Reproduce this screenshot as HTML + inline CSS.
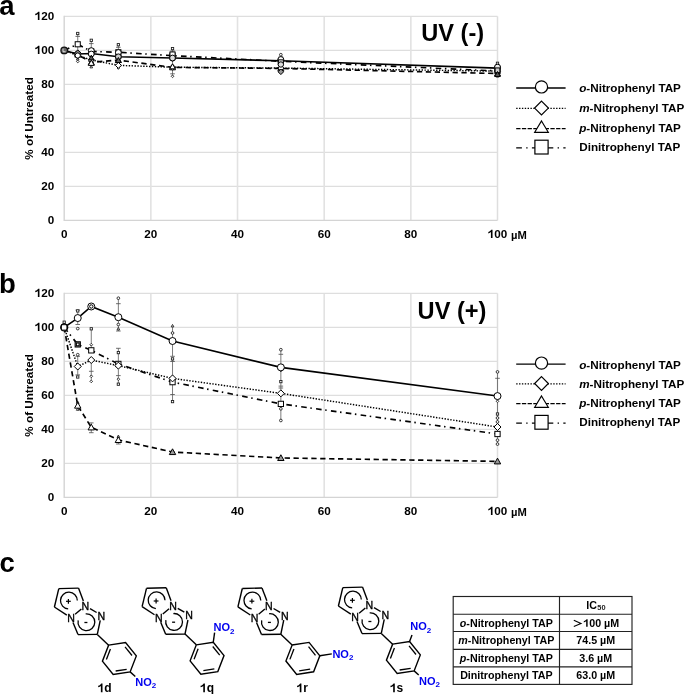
<!DOCTYPE html>
<html><head><meta charset="utf-8"><style>html,body{margin:0;padding:0;background:#fff}svg{display:block;will-change:transform}</style></head>
<body>
<svg width="685" height="694" viewBox="0 0 685 694">
<rect width="685" height="694" fill="#fff"/>
<style>text{font-family:"Liberation Sans", sans-serif;font-weight:bold;fill:#000} .t{font-size:11.7px} .um{font-size:11.2px} .uv{font-size:23.6px} .lg{font-size:11.7px} .pl{font-size:27.5px} .tb{font-size:10.7px} .nl{font-weight:normal;font-size:10.6px;stroke:#000;stroke-width:0.35px} .no2{font-size:11px;fill:#0000ee} .sub{font-size:8px} .cl{font-size:12px} .tsub{font-size:7.4px;fill:#222}</style>
<text x="-0.8" y="15.3" class="pl">a</text>
<text x="-1.0" y="293.0" class="pl">b</text>
<text x="-0.6" y="572.4" class="pl">c</text>
<line x1="64.2" y1="186.4" x2="497.5" y2="186.4" stroke="#dedede" stroke-width="1.3"/>
<line x1="64.2" y1="152.4" x2="497.5" y2="152.4" stroke="#dedede" stroke-width="1.3"/>
<line x1="64.2" y1="118.4" x2="497.5" y2="118.4" stroke="#dedede" stroke-width="1.3"/>
<line x1="64.2" y1="84.4" x2="497.5" y2="84.4" stroke="#dedede" stroke-width="1.3"/>
<line x1="64.2" y1="50.4" x2="497.5" y2="50.4" stroke="#dedede" stroke-width="1.3"/>
<line x1="150.86" y1="16.4" x2="150.86" y2="220.4" stroke="#e2e2e2" stroke-width="1.6"/>
<line x1="237.52" y1="16.4" x2="237.52" y2="220.4" stroke="#e2e2e2" stroke-width="1.6"/>
<line x1="324.18" y1="16.4" x2="324.18" y2="220.4" stroke="#e2e2e2" stroke-width="1.6"/>
<line x1="410.84" y1="16.4" x2="410.84" y2="220.4" stroke="#e2e2e2" stroke-width="1.6"/>
<line x1="64.2" y1="16.4" x2="497.5" y2="16.4" stroke="#dedede" stroke-width="1.3"/>
<line x1="497.5" y1="16.4" x2="497.5" y2="220.4" stroke="#dedede" stroke-width="1.5"/>
<line x1="64.2" y1="15.8" x2="64.2" y2="221.1" stroke="#d4d4d4" stroke-width="1.4"/>
<line x1="64.2" y1="220.4" x2="497.5" y2="220.4" stroke="#d4d4d4" stroke-width="1.4"/>
<text x="47.69" y="224" class="t" style="white-space:pre">0</text>
<text x="41.19" y="190" class="t" style="white-space:pre">20</text>
<text x="41.19" y="156" class="t" style="white-space:pre">40</text>
<text x="41.19" y="122" class="t" style="white-space:pre">60</text>
<text x="41.19" y="88" class="t" style="white-space:pre">80</text>
<path transform="translate(34.68 54) scale(0.00571 -0.00571)" d="M838,0 L557,0 L557,1059 C474,980 330,900 100,826 L100,1081 C230,1120 360,1190 450,1270 C540,1350 590,1410 620,1466 L838,1466 Z" fill="#000"/>
<text x="41.19" y="54" class="t" style="white-space:pre">00</text>
<path transform="translate(34.68 20) scale(0.00571 -0.00571)" d="M838,0 L557,0 L557,1059 C474,980 330,900 100,826 L100,1081 C230,1120 360,1190 450,1270 C540,1350 590,1410 620,1466 L838,1466 Z" fill="#000"/>
<text x="41.19" y="20" class="t" style="white-space:pre">20</text>
<text x="60.95" y="238.1" class="t" style="white-space:pre">0</text>
<text x="144.35" y="238.1" class="t" style="white-space:pre">20</text>
<text x="231.01" y="238.1" class="t" style="white-space:pre">40</text>
<text x="317.67" y="238.1" class="t" style="white-space:pre">60</text>
<text x="404.33" y="238.1" class="t" style="white-space:pre">80</text>
<path transform="translate(487.74 238.1) scale(0.00571 -0.00571)" d="M838,0 L557,0 L557,1059 C474,980 330,900 100,826 L100,1081 C230,1120 360,1190 450,1270 C540,1350 590,1410 620,1466 L838,1466 Z" fill="#000"/>
<text x="494.25" y="238.1" class="t" style="white-space:pre">00</text>
<text x="511.1" y="238.7" class="um">µM</text>
<text transform="translate(32.9 118.4) rotate(-90)" text-anchor="middle" class="t">% of Untreated</text>
<text x="421.2" y="41.2" class="uv">UV (-)</text>
<line x1="77.74" y1="33.5" x2="77.74" y2="62.5" stroke="#666" stroke-width="0.85"/>
<line x1="75.44" y1="36.4" x2="80.04" y2="36.4" stroke="#555" stroke-width="0.85"/>
<rect x="76.59" y="32.35" width="2.29" height="2.29" fill="#fff" stroke="#222" stroke-width="0.9"/>
<path d="M77.74,57.55 L79.09,59.98 L76.39,59.98Z" fill="#fff" stroke="#222" stroke-width="0.9"/>
<path d="M77.74,60.15 L79.09,61.5 L77.74,62.85 L76.39,61.5Z" fill="#fff" stroke="#222" stroke-width="0.9"/>
<line x1="91.28" y1="40.3" x2="91.28" y2="66.8" stroke="#666" stroke-width="0.85"/>
<line x1="88.98" y1="43.6" x2="93.58" y2="43.6" stroke="#555" stroke-width="0.85"/>
<rect x="90.13" y="39.15" width="2.29" height="2.29" fill="#fff" stroke="#222" stroke-width="0.9"/>
<path d="M91.28,65.45 L92.63,67.88 L89.93,67.88Z" fill="#fff" stroke="#222" stroke-width="0.9"/>
<line x1="118.36" y1="44.7" x2="118.36" y2="68.5" stroke="#666" stroke-width="0.85"/>
<line x1="116.06" y1="47.3" x2="120.66" y2="47.3" stroke="#555" stroke-width="0.85"/>
<line x1="116.06" y1="66.5" x2="120.66" y2="66.5" stroke="#555" stroke-width="0.85"/>
<rect x="117.22" y="43.55" width="2.29" height="2.29" fill="#fff" stroke="#222" stroke-width="0.9"/>
<path d="M118.36,66.65 L119.71,68 L118.36,69.35 L117.01,68Z" fill="#fff" stroke="#222" stroke-width="0.9"/>
<line x1="172.53" y1="48.6" x2="172.53" y2="76.3" stroke="#666" stroke-width="0.85"/>
<line x1="170.22" y1="51" x2="174.83" y2="51" stroke="#555" stroke-width="0.85"/>
<line x1="170.22" y1="73.8" x2="174.83" y2="73.8" stroke="#555" stroke-width="0.85"/>
<rect x="171.38" y="47.45" width="2.29" height="2.29" fill="#fff" stroke="#222" stroke-width="0.9"/>
<path d="M172.53,74.95 L173.88,76.3 L172.53,77.65 L171.18,76.3Z" fill="#fff" stroke="#222" stroke-width="0.9"/>
<line x1="280.85" y1="54.7" x2="280.85" y2="72.2" stroke="#666" stroke-width="0.85"/>
<line x1="278.55" y1="57" x2="283.15" y2="57" stroke="#555" stroke-width="0.85"/>
<line x1="278.55" y1="70" x2="283.15" y2="70" stroke="#555" stroke-width="0.85"/>
<circle cx="280.85" cy="54.7" r="1.35" fill="#fff" stroke="#222" stroke-width="0.9"/>
<path d="M280.85,70.85 L282.2,72.2 L280.85,73.55 L279.5,72.2Z" fill="#fff" stroke="#222" stroke-width="0.9"/>
<line x1="497.5" y1="63" x2="497.5" y2="77" stroke="#666" stroke-width="0.85"/>
<line x1="495.2" y1="65" x2="499.8" y2="65" stroke="#555" stroke-width="0.85"/>
<line x1="495.2" y1="75" x2="499.8" y2="75" stroke="#555" stroke-width="0.85"/>
<rect x="496.35" y="62.15" width="2.29" height="2.29" fill="#fff" stroke="#222" stroke-width="0.9"/>
<path d="M497.5,74.65 L498.85,77.08 L496.15,77.08Z" fill="#fff" stroke="#222" stroke-width="0.9"/>
<polyline points="64.2,50.4 77.74,44.28 91.28,51.42 118.36,52.27 172.53,55.67 280.85,61.28 497.5,70.97" fill="none" stroke="#000" stroke-width="1.65" stroke-dasharray="5.6 3.6 1.5 4.3"/>
<polyline points="64.2,50.4 77.74,54.65 91.28,62.3 118.36,60.09 172.53,67.4 280.85,68.42 497.5,73.52" fill="none" stroke="#000" stroke-width="1.65" stroke-dasharray="5.3 3.6"/>
<polyline points="64.2,50.4 77.74,55.5 91.28,59.92 118.36,65.36 172.53,67.23 280.85,68.08 497.5,71.14" fill="none" stroke="#000" stroke-width="1.45" stroke-dasharray="1.4 1.5"/>
<polyline points="64.2,50.4 77.74,53.97 91.28,53.46 118.36,56.69 172.53,58.05 280.85,60.77 497.5,68.08" fill="none" stroke="#000" stroke-width="1.6"/>
<rect x="75.19" y="41.73" width="5.1" height="5.1" fill="#fff" stroke="#000" stroke-width="1.0"/>
<rect x="88.73" y="48.87" width="5.1" height="5.1" fill="#fff" stroke="#000" stroke-width="1.0"/>
<rect x="115.81" y="49.72" width="5.1" height="5.1" fill="#fff" stroke="#000" stroke-width="1.0"/>
<rect x="169.97" y="53.12" width="5.1" height="5.1" fill="#fff" stroke="#000" stroke-width="1.0"/>
<rect x="278.3" y="58.73" width="5.1" height="5.1" fill="#fff" stroke="#000" stroke-width="1.0"/>
<rect x="494.95" y="68.42" width="5.1" height="5.1" fill="#fff" stroke="#000" stroke-width="1.0"/>
<path d="M77.74,51.65 L80.74,57.05 L74.74,57.05Z" fill="#fff" stroke="#000" stroke-width="1.0"/>
<path d="M91.28,59.3 L94.28,64.7 L88.28,64.7Z" fill="#fff" stroke="#000" stroke-width="1.0"/>
<path d="M118.36,57.09 L121.36,62.49 L115.36,62.49Z" fill="#fff" stroke="#000" stroke-width="1.0"/>
<path d="M172.53,64.4 L175.53,69.8 L169.53,69.8Z" fill="#fff" stroke="#000" stroke-width="1.0"/>
<path d="M280.85,65.42 L283.85,70.82 L277.85,70.82Z" fill="#fff" stroke="#000" stroke-width="1.0"/>
<path d="M497.5,70.52 L500.5,75.92 L494.5,75.92Z" fill="#fff" stroke="#000" stroke-width="1.0"/>
<path d="M77.74,52.5 L80.74,55.5 L77.74,58.5 L74.74,55.5Z" fill="#fff" stroke="#000" stroke-width="1.0"/>
<path d="M91.28,56.92 L94.28,59.92 L91.28,62.92 L88.28,59.92Z" fill="#fff" stroke="#000" stroke-width="1.0"/>
<path d="M118.36,62.36 L121.36,65.36 L118.36,68.36 L115.36,65.36Z" fill="#fff" stroke="#000" stroke-width="1.0"/>
<path d="M172.53,64.23 L175.53,67.23 L172.53,70.23 L169.53,67.23Z" fill="#fff" stroke="#000" stroke-width="1.0"/>
<path d="M280.85,65.08 L283.85,68.08 L280.85,71.08 L277.85,68.08Z" fill="#fff" stroke="#000" stroke-width="1.0"/>
<path d="M497.5,68.14 L500.5,71.14 L497.5,74.14 L494.5,71.14Z" fill="#fff" stroke="#000" stroke-width="1.0"/>
<circle cx="77.74" cy="53.97" r="3" fill="#fff" stroke="#000" stroke-width="1.0"/>
<circle cx="91.28" cy="53.46" r="3" fill="#fff" stroke="#000" stroke-width="1.0"/>
<circle cx="118.36" cy="56.69" r="3" fill="#fff" stroke="#000" stroke-width="1.0"/>
<circle cx="172.53" cy="58.05" r="3" fill="#fff" stroke="#000" stroke-width="1.0"/>
<circle cx="280.85" cy="60.77" r="3" fill="#fff" stroke="#000" stroke-width="1.0"/>
<circle cx="497.5" cy="68.08" r="3" fill="#fff" stroke="#000" stroke-width="1.0"/>
<path d="M77.74,49.9 L81.14,53.3 L77.74,56.7 L74.34,53.3Z" fill="#888" stroke="#000" stroke-width="1.0"/>
<circle cx="77.74" cy="55.5" r="2.6" fill="#fff" stroke="#000" stroke-width="1.0"/>
<circle cx="91.28" cy="50.6" r="2.9" fill="#fff" stroke="#000" stroke-width="1.0"/>
<circle cx="91.28" cy="54" r="2.9" fill="#fff" stroke="#000" stroke-width="1.0"/>
<path d="M91.28,55.2 L93.88,59.88 L88.68,59.88Z" fill="#555" stroke="#000" stroke-width="1.0"/>
<path d="M91.28,60 L94.28,65.4 L88.28,65.4Z" fill="#fff" stroke="#000" stroke-width="1.0"/>
<circle cx="118.36" cy="52.5" r="2.9" fill="#fff" stroke="#000" stroke-width="1.0"/>
<circle cx="118.36" cy="56.8" r="2.9" fill="#ccc" stroke="#000" stroke-width="1.0"/>
<path d="M118.36,57.5 L121.16,62.54 L115.56,62.54Z" fill="#666" stroke="#000" stroke-width="1.0"/>
<rect x="169.97" y="51.95" width="5.1" height="5.1" fill="#fff" stroke="#000" stroke-width="1.0"/>
<circle cx="172.53" cy="58" r="2.9" fill="#ddd" stroke="#000" stroke-width="1.0"/>
<path d="M172.53,63.8 L175.33,68.84 L169.72,68.84Z" fill="#fff" stroke="#000" stroke-width="1.0"/>
<circle cx="280.85" cy="59.5" r="2.9" fill="#fff" stroke="#000" stroke-width="1.0"/>
<rect x="278.39" y="59.83" width="4.93" height="4.93" fill="#eee" stroke="#000" stroke-width="1.0"/>
<circle cx="280.85" cy="64.5" r="2.7" fill="#ddd" stroke="#000" stroke-width="1.0"/>
<path d="M280.85,69 L283.65,71.8 L280.85,74.6 L278.05,71.8Z" fill="#999" stroke="#000" stroke-width="1.0"/>
<circle cx="497.5" cy="67.2" r="3" fill="#eee" stroke="#000" stroke-width="1.0"/>
<rect x="495.12" y="67.92" width="4.76" height="4.76" fill="#ccc" stroke="#000" stroke-width="1.0"/>
<path d="M497.5,71.5 L500.3,76.54 L494.7,76.54Z" fill="#555" stroke="#000" stroke-width="1.0"/>
<circle cx="64.2" cy="50.4" r="3.3" fill="#666" stroke="#111" stroke-width="1.2"/>
<path d="M63,48.6 V51.7 H65.6" fill="none" stroke="#eee" stroke-width="0.8"/>
<line x1="516.2" y1="88" x2="565.6" y2="88" stroke="#000" stroke-width="1.3"/>
<circle cx="541.5" cy="86.9" r="6.1" fill="#fff" stroke="#000" stroke-width="1.2"/>
<text x="579.2" y="92.3" class="lg"><tspan font-style="italic">o</tspan>-Nitrophenyl TAP</text>
<line x1="516.2" y1="108.4" x2="565.6" y2="108.4" stroke="#000" stroke-width="1.2" stroke-dasharray="1.4 1.45"/>
<path d="M541.5,101.2 L548.4,108.1 L541.5,115 L534.6,108.1Z" fill="#fff" stroke="#000" stroke-width="1.2"/>
<text x="579.2" y="112.1" class="lg"><tspan font-style="italic">m</tspan>-Nitrophenyl TAP</text>
<line x1="516.2" y1="128.7" x2="565.6" y2="128.7" stroke="#000" stroke-width="1.3" stroke-dasharray="4.3 1.4"/>
<path d="M541.5,121 L548.3,132.3 L534.7,132.3Z" fill="#fff" stroke="#000" stroke-width="1.2"/>
<text x="579.2" y="132.3" class="lg"><tspan font-style="italic">p</tspan>-Nitrophenyl TAP</text>
<line x1="516.2" y1="147.9" x2="565.6" y2="147.9" stroke="#000" stroke-width="1.3" stroke-dasharray="5.7 4.3 1.4 4.3"/>
<rect x="534.9" y="140.2" width="13.2" height="13.8" fill="#fff" stroke="#000" stroke-width="1.2"/>
<text x="579.2" y="150.7" class="lg">Dinitrophenyl TAP</text>
<line x1="64.2" y1="463.4" x2="497.5" y2="463.4" stroke="#dedede" stroke-width="1.3"/>
<line x1="64.2" y1="429.4" x2="497.5" y2="429.4" stroke="#dedede" stroke-width="1.3"/>
<line x1="64.2" y1="395.4" x2="497.5" y2="395.4" stroke="#dedede" stroke-width="1.3"/>
<line x1="64.2" y1="361.4" x2="497.5" y2="361.4" stroke="#dedede" stroke-width="1.3"/>
<line x1="64.2" y1="327.4" x2="497.5" y2="327.4" stroke="#dedede" stroke-width="1.3"/>
<line x1="150.86" y1="293.4" x2="150.86" y2="497.4" stroke="#e2e2e2" stroke-width="1.6"/>
<line x1="237.52" y1="293.4" x2="237.52" y2="497.4" stroke="#e2e2e2" stroke-width="1.6"/>
<line x1="324.18" y1="293.4" x2="324.18" y2="497.4" stroke="#e2e2e2" stroke-width="1.6"/>
<line x1="410.84" y1="293.4" x2="410.84" y2="497.4" stroke="#e2e2e2" stroke-width="1.6"/>
<line x1="64.2" y1="293.4" x2="497.5" y2="293.4" stroke="#dedede" stroke-width="1.3"/>
<line x1="497.5" y1="293.4" x2="497.5" y2="497.4" stroke="#dedede" stroke-width="1.5"/>
<line x1="64.2" y1="292.8" x2="64.2" y2="498.1" stroke="#d4d4d4" stroke-width="1.4"/>
<line x1="64.2" y1="497.4" x2="497.5" y2="497.4" stroke="#d4d4d4" stroke-width="1.4"/>
<text x="47.69" y="501" class="t" style="white-space:pre">0</text>
<text x="41.19" y="467" class="t" style="white-space:pre">20</text>
<text x="41.19" y="433" class="t" style="white-space:pre">40</text>
<text x="41.19" y="399" class="t" style="white-space:pre">60</text>
<text x="41.19" y="365" class="t" style="white-space:pre">80</text>
<path transform="translate(34.68 331) scale(0.00571 -0.00571)" d="M838,0 L557,0 L557,1059 C474,980 330,900 100,826 L100,1081 C230,1120 360,1190 450,1270 C540,1350 590,1410 620,1466 L838,1466 Z" fill="#000"/>
<text x="41.19" y="331" class="t" style="white-space:pre">00</text>
<path transform="translate(34.68 297) scale(0.00571 -0.00571)" d="M838,0 L557,0 L557,1059 C474,980 330,900 100,826 L100,1081 C230,1120 360,1190 450,1270 C540,1350 590,1410 620,1466 L838,1466 Z" fill="#000"/>
<text x="41.19" y="297" class="t" style="white-space:pre">20</text>
<text x="60.95" y="515.1" class="t" style="white-space:pre">0</text>
<text x="144.35" y="515.1" class="t" style="white-space:pre">20</text>
<text x="231.01" y="515.1" class="t" style="white-space:pre">40</text>
<text x="317.67" y="515.1" class="t" style="white-space:pre">60</text>
<text x="404.33" y="515.1" class="t" style="white-space:pre">80</text>
<path transform="translate(487.74 515.1) scale(0.00571 -0.00571)" d="M838,0 L557,0 L557,1059 C474,980 330,900 100,826 L100,1081 C230,1120 360,1190 450,1270 C540,1350 590,1410 620,1466 L838,1466 Z" fill="#000"/>
<text x="494.25" y="515.1" class="t" style="white-space:pre">00</text>
<text x="511.1" y="515.7" class="um">µM</text>
<text transform="translate(32.9 395.4) rotate(-90)" text-anchor="middle" class="t">% of Untreated</text>
<text x="417.6" y="319.4" class="uv">UV (+)</text>
<line x1="64.2" y1="322.2" x2="64.2" y2="326" stroke="#666" stroke-width="0.85"/>
<rect x="63.05" y="321.05" width="2.29" height="2.29" fill="#fff" stroke="#222" stroke-width="0.9"/>
<line x1="77.74" y1="310.1" x2="77.74" y2="324.5" stroke="#666" stroke-width="0.85"/>
<line x1="75.44" y1="310.1" x2="80.04" y2="310.1" stroke="#555" stroke-width="0.85"/>
<line x1="75.44" y1="324.5" x2="80.04" y2="324.5" stroke="#555" stroke-width="0.85"/>
<rect x="76.59" y="309.75" width="2.29" height="2.29" fill="#fff" stroke="#222" stroke-width="0.9"/>
<circle cx="77.74" cy="328.6" r="1.35" fill="#fff" stroke="#222" stroke-width="0.9"/>
<line x1="77.74" y1="355.5" x2="77.74" y2="374.9" stroke="#666" stroke-width="0.85"/>
<line x1="75.44" y1="356.3" x2="80.04" y2="356.3" stroke="#555" stroke-width="0.85"/>
<line x1="75.44" y1="374.9" x2="80.04" y2="374.9" stroke="#555" stroke-width="0.85"/>
<circle cx="77.74" cy="354.7" r="1.35" fill="#fff" stroke="#222" stroke-width="0.9"/>
<rect x="76.59" y="375.85" width="2.29" height="2.29" fill="#fff" stroke="#222" stroke-width="0.9"/>
<line x1="91.28" y1="328.8" x2="91.28" y2="351.2" stroke="#666" stroke-width="0.85"/>
<rect x="90.13" y="327.65" width="2.29" height="2.29" fill="#fff" stroke="#222" stroke-width="0.9"/>
<path d="M91.28,343.35 L92.63,344.7 L91.28,346.05 L89.93,344.7Z" fill="#fff" stroke="#222" stroke-width="0.9"/>
<line x1="91.28" y1="360" x2="91.28" y2="381.4" stroke="#666" stroke-width="0.85"/>
<line x1="88.98" y1="371.3" x2="93.58" y2="371.3" stroke="#555" stroke-width="0.85"/>
<path d="M91.28,374.95 L92.63,376.3 L91.28,377.65 L89.93,376.3Z" fill="#fff" stroke="#222" stroke-width="0.9"/>
<path d="M91.28,380.05 L92.63,381.4 L91.28,382.75 L89.93,381.4Z" fill="#fff" stroke="#222" stroke-width="0.9"/>
<line x1="118.36" y1="298.2" x2="118.36" y2="331" stroke="#666" stroke-width="0.85"/>
<line x1="116.06" y1="303.7" x2="120.66" y2="303.7" stroke="#555" stroke-width="0.85"/>
<line x1="116.06" y1="331" x2="120.66" y2="331" stroke="#555" stroke-width="0.85"/>
<circle cx="118.36" cy="298.2" r="1.35" fill="#fff" stroke="#222" stroke-width="0.9"/>
<circle cx="118.36" cy="324.5" r="1.35" fill="#fff" stroke="#222" stroke-width="0.9"/>
<path d="M118.36,327.45 L119.71,329.88 L117.01,329.88Z" fill="#fff" stroke="#222" stroke-width="0.9"/>
<line x1="118.36" y1="348.3" x2="118.36" y2="384.2" stroke="#666" stroke-width="0.85"/>
<line x1="116.06" y1="348.3" x2="120.66" y2="348.3" stroke="#555" stroke-width="0.85"/>
<line x1="116.06" y1="375.6" x2="120.66" y2="375.6" stroke="#555" stroke-width="0.85"/>
<rect x="117.22" y="351.45" width="2.29" height="2.29" fill="#fff" stroke="#222" stroke-width="0.9"/>
<path d="M118.36,377.85 L119.71,379.2 L118.36,380.55 L117.01,379.2Z" fill="#fff" stroke="#222" stroke-width="0.9"/>
<rect x="117.22" y="383.05" width="2.29" height="2.29" fill="#fff" stroke="#222" stroke-width="0.9"/>
<line x1="172.53" y1="325.8" x2="172.53" y2="356.3" stroke="#666" stroke-width="0.85"/>
<line x1="170.22" y1="356.3" x2="174.83" y2="356.3" stroke="#555" stroke-width="0.85"/>
<path d="M172.53,324.45 L173.88,326.88 L171.18,326.88Z" fill="#fff" stroke="#222" stroke-width="0.9"/>
<circle cx="172.53" cy="333" r="1.35" fill="#fff" stroke="#222" stroke-width="0.9"/>
<line x1="172.53" y1="358.9" x2="172.53" y2="401.6" stroke="#666" stroke-width="0.85"/>
<line x1="170.22" y1="361.5" x2="174.83" y2="361.5" stroke="#555" stroke-width="0.85"/>
<line x1="170.22" y1="394.5" x2="174.83" y2="394.5" stroke="#555" stroke-width="0.85"/>
<rect x="171.38" y="357.75" width="2.29" height="2.29" fill="#fff" stroke="#222" stroke-width="0.9"/>
<rect x="171.38" y="400.45" width="2.29" height="2.29" fill="#fff" stroke="#222" stroke-width="0.9"/>
<line x1="280.85" y1="349.7" x2="280.85" y2="420.5" stroke="#666" stroke-width="0.85"/>
<line x1="278.55" y1="354.3" x2="283.15" y2="354.3" stroke="#555" stroke-width="0.85"/>
<line x1="278.55" y1="386.1" x2="283.15" y2="386.1" stroke="#555" stroke-width="0.85"/>
<line x1="278.55" y1="388" x2="283.15" y2="388" stroke="#555" stroke-width="0.85"/>
<circle cx="280.85" cy="349.7" r="1.35" fill="#fff" stroke="#222" stroke-width="0.9"/>
<path d="M280.85,369.15 L282.2,370.5 L280.85,371.85 L279.5,370.5Z" fill="#fff" stroke="#222" stroke-width="0.9"/>
<rect x="279.7" y="380.45" width="2.29" height="2.29" fill="#fff" stroke="#222" stroke-width="0.9"/>
<circle cx="280.85" cy="408.8" r="1.35" fill="#fff" stroke="#222" stroke-width="0.9"/>
<circle cx="280.85" cy="420.5" r="1.35" fill="#fff" stroke="#222" stroke-width="0.9"/>
<line x1="497.5" y1="371.9" x2="497.5" y2="444.1" stroke="#666" stroke-width="0.85"/>
<line x1="495.2" y1="378.3" x2="499.8" y2="378.3" stroke="#555" stroke-width="0.85"/>
<circle cx="497.5" cy="371.9" r="1.35" fill="#fff" stroke="#222" stroke-width="0.9"/>
<path d="M497.5,399.95 L498.85,401.3 L497.5,402.65 L496.15,401.3Z" fill="#fff" stroke="#222" stroke-width="0.9"/>
<rect x="496.35" y="412.85" width="2.29" height="2.29" fill="#fff" stroke="#222" stroke-width="0.9"/>
<circle cx="497.5" cy="418" r="1.35" fill="#fff" stroke="#222" stroke-width="0.9"/>
<circle cx="497.5" cy="421.9" r="1.35" fill="#fff" stroke="#222" stroke-width="0.9"/>
<circle cx="497.5" cy="440.2" r="1.35" fill="#fff" stroke="#222" stroke-width="0.9"/>
<circle cx="497.5" cy="444.1" r="1.35" fill="#fff" stroke="#222" stroke-width="0.9"/>
<line x1="77.74" y1="401.8" x2="77.74" y2="409.4" stroke="#666" stroke-width="0.85"/>
<path d="M77.74,401.05 L79.09,403.48 L76.39,403.48Z" fill="#fff" stroke="#222" stroke-width="0.9"/>
<path d="M77.74,407.85 L79.09,410.28 L76.39,410.28Z" fill="#fff" stroke="#222" stroke-width="0.9"/>
<line x1="91.28" y1="422.9" x2="91.28" y2="432.7" stroke="#666" stroke-width="0.85"/>
<line x1="88.98" y1="422.9" x2="93.58" y2="422.9" stroke="#555" stroke-width="0.85"/>
<line x1="88.98" y1="432.7" x2="93.58" y2="432.7" stroke="#555" stroke-width="0.85"/>
<line x1="118.36" y1="436.2" x2="118.36" y2="444" stroke="#666" stroke-width="0.85"/>
<line x1="116.06" y1="444" x2="120.66" y2="444" stroke="#555" stroke-width="0.85"/>
<path d="M118.36,435.05 L119.71,437.48 L117.01,437.48Z" fill="#fff" stroke="#222" stroke-width="0.9"/>
<polyline points="64.2,327.4 77.74,344.4 91.28,350.35 118.36,363.95 172.53,382.14 280.85,403.9 497.5,433.99" fill="none" stroke="#000" stroke-width="1.65" stroke-dasharray="5.6 3.6 1.5 4.3"/>
<polyline points="64.2,327.4 77.74,405.6 91.28,427.36 118.36,439.94 172.53,452.01 280.85,457.96 497.5,461.36" fill="none" stroke="#000" stroke-width="1.65" stroke-dasharray="5.3 3.6"/>
<polyline points="64.2,327.4 77.74,366.5 91.28,360.04 118.36,365.65 172.53,378.4 280.85,393.36 497.5,427.02" fill="none" stroke="#000" stroke-width="1.45" stroke-dasharray="1.4 1.5"/>
<polyline points="64.2,327.4 77.74,318.05 91.28,306.49 118.36,317.2 172.53,341 280.85,367.35 497.5,396.08" fill="none" stroke="#000" stroke-width="1.6"/>
<rect x="75.11" y="341.76" width="5.27" height="5.27" fill="#888" stroke="#000" stroke-width="1.0"/>
<rect x="88.65" y="347.72" width="5.27" height="5.27" fill="#fff" stroke="#000" stroke-width="1.0"/>
<rect x="115.73" y="361.31" width="5.27" height="5.27" fill="#fff" stroke="#000" stroke-width="1.0"/>
<rect x="169.89" y="379.5" width="5.27" height="5.27" fill="#fff" stroke="#000" stroke-width="1.0"/>
<rect x="278.22" y="401.26" width="5.27" height="5.27" fill="#fff" stroke="#000" stroke-width="1.0"/>
<rect x="494.87" y="431.36" width="5.27" height="5.27" fill="#fff" stroke="#000" stroke-width="1.0"/>
<path d="M77.74,402.4 L80.94,408.16 L74.54,408.16Z" fill="#fff" stroke="#000" stroke-width="1.0"/>
<path d="M91.28,424.16 L94.48,429.92 L88.08,429.92Z" fill="#fff" stroke="#000" stroke-width="1.0"/>
<path d="M118.36,436.74 L121.56,442.5 L115.16,442.5Z" fill="#fff" stroke="#000" stroke-width="1.0"/>
<path d="M172.53,448.81 L175.72,454.57 L169.33,454.57Z" fill="#999" stroke="#000" stroke-width="1.0"/>
<path d="M280.85,454.76 L284.05,460.52 L277.65,460.52Z" fill="#999" stroke="#000" stroke-width="1.0"/>
<path d="M497.5,458.16 L500.7,463.92 L494.3,463.92Z" fill="#999" stroke="#000" stroke-width="1.0"/>
<path d="M77.74,363 L81.24,366.5 L77.74,370 L74.24,366.5Z" fill="#fff" stroke="#000" stroke-width="1.0"/>
<path d="M91.28,356.54 L94.78,360.04 L91.28,363.54 L87.78,360.04Z" fill="#fff" stroke="#000" stroke-width="1.0"/>
<path d="M118.36,362.15 L121.86,365.65 L118.36,369.15 L114.86,365.65Z" fill="#fff" stroke="#000" stroke-width="1.0"/>
<path d="M172.53,374.9 L176.03,378.4 L172.53,381.9 L169.03,378.4Z" fill="#fff" stroke="#000" stroke-width="1.0"/>
<path d="M280.85,389.86 L284.35,393.36 L280.85,396.86 L277.35,393.36Z" fill="#fff" stroke="#000" stroke-width="1.0"/>
<path d="M497.5,423.52 L501,427.02 L497.5,430.52 L494,427.02Z" fill="#fff" stroke="#000" stroke-width="1.0"/>
<circle cx="77.74" cy="318.05" r="3.5" fill="#fff" stroke="#000" stroke-width="1.0"/>
<circle cx="91.28" cy="306.49" r="3.5" fill="#fff" stroke="#000" stroke-width="1.0"/>
<circle cx="118.36" cy="317.2" r="3.5" fill="#fff" stroke="#000" stroke-width="1.0"/>
<circle cx="172.53" cy="341" r="3.5" fill="#fff" stroke="#000" stroke-width="1.0"/>
<circle cx="280.85" cy="367.35" r="3.5" fill="#fff" stroke="#000" stroke-width="1.0"/>
<circle cx="497.5" cy="396.08" r="3.5" fill="#fff" stroke="#000" stroke-width="1.0"/>
<circle cx="91.28" cy="306.49" r="1.7" fill="#fff" stroke="#000" stroke-width="1.0"/>
<rect x="76.38" y="343.04" width="2.72" height="2.72" fill="#fff" stroke="#000" stroke-width="1.0"/>
<circle cx="64.2" cy="327.4" r="3.5" fill="#fff" stroke="#000" stroke-width="1.3"/>
<rect x="61.58" y="324.77" width="5.25" height="5.25" fill="none" stroke="#000" stroke-width="0.8"/>
<line x1="516.2" y1="364.2" x2="565.6" y2="364.2" stroke="#000" stroke-width="1.3"/>
<circle cx="541.5" cy="363.1" r="6.1" fill="#fff" stroke="#000" stroke-width="1.2"/>
<text x="579.2" y="368.5" class="lg"><tspan font-style="italic">o</tspan>-Nitrophenyl TAP</text>
<line x1="516.2" y1="383.8" x2="565.6" y2="383.8" stroke="#000" stroke-width="1.2" stroke-dasharray="1.4 1.45"/>
<path d="M541.5,376.6 L548.4,383.5 L541.5,390.4 L534.6,383.5Z" fill="#fff" stroke="#000" stroke-width="1.2"/>
<text x="579.2" y="387.5" class="lg"><tspan font-style="italic">m</tspan>-Nitrophenyl TAP</text>
<line x1="516.2" y1="403.7" x2="565.6" y2="403.7" stroke="#000" stroke-width="1.3" stroke-dasharray="4.3 1.4"/>
<path d="M541.5,396 L548.3,407.3 L534.7,407.3Z" fill="#fff" stroke="#000" stroke-width="1.2"/>
<text x="579.2" y="407.3" class="lg"><tspan font-style="italic">p</tspan>-Nitrophenyl TAP</text>
<line x1="516.2" y1="423.1" x2="565.6" y2="423.1" stroke="#000" stroke-width="1.3" stroke-dasharray="5.7 4.3 1.4 4.3"/>
<rect x="534.9" y="415.4" width="13.2" height="13.8" fill="#fff" stroke="#000" stroke-width="1.2"/>
<text x="579.2" y="425.9" class="lg">Dinitrophenyl TAP</text>
<line x1="58.8" y1="588.6" x2="78.5" y2="588.1" stroke="#000" stroke-width="1.4" stroke-linecap="butt"/>
<line x1="58.8" y1="588.6" x2="54.4" y2="607" stroke="#000" stroke-width="1.4" stroke-linecap="butt"/>
<line x1="78.5" y1="588.1" x2="83.36" y2="600.94" stroke="#000" stroke-width="1.4" stroke-linecap="butt"/>
<line x1="54.4" y1="607" x2="66.81" y2="615.07" stroke="#000" stroke-width="1.4" stroke-linecap="butt"/>
<line x1="81.38" y1="609.03" x2="75.12" y2="614.31" stroke="#000" stroke-width="1.4" stroke-linecap="butt"/>
<line x1="90.04" y1="608.62" x2="96.64" y2="612.48" stroke="#000" stroke-width="1.4" stroke-linecap="butt"/>
<line x1="100.24" y1="620.29" x2="97.3" y2="634.4" stroke="#000" stroke-width="1.4" stroke-linecap="butt"/>
<line x1="97.3" y1="634.4" x2="78" y2="634.6" stroke="#000" stroke-width="1.4" stroke-linecap="butt"/>
<line x1="78" y1="634.6" x2="73" y2="622.6" stroke="#000" stroke-width="1.4" stroke-linecap="butt"/>
<text x="85.3" y="610.35" text-anchor="middle" class="nl">N</text>
<text x="71.1" y="622.35" text-anchor="middle" class="nl">N</text>
<text x="101.4" y="619.75" text-anchor="middle" class="nl">N</text>
<path d="M68.17,608.97 A8.4,8.4 0 1 1 77.3,600.6" fill="none" stroke="#000" stroke-width="1.3"/>
<path d="M85.67,613.83 A8.4,8.4 0 1 1 78.18,620.45" fill="none" stroke="#000" stroke-width="1.3"/>
<line x1="66" y1="601.3" x2="70.8" y2="601.3" stroke="#000" stroke-width="1.2" stroke-linecap="butt"/>
<line x1="68.4" y1="598.9" x2="68.4" y2="603.7" stroke="#000" stroke-width="1.2" stroke-linecap="butt"/>
<line x1="84.4" y1="622.5" x2="87.4" y2="622.5" stroke="#000" stroke-width="1.3" stroke-linecap="butt"/>
<line x1="97.3" y1="634.4" x2="108.62" y2="645.15" stroke="#000" stroke-width="1.4" stroke-linecap="butt"/>
<polygon points="108.62,645.15 125.57,642.53 136.32,655.9 130.12,671.89 113.17,674.51 102.42,661.14" fill="none" stroke="#000" stroke-width="1.4" stroke-linejoin="miter"/>
<line x1="125.04" y1="646.81" x2="132.02" y2="655.5" stroke="#000" stroke-width="1.3" stroke-linecap="butt"/>
<line x1="126.68" y1="669.28" x2="115.66" y2="670.99" stroke="#000" stroke-width="1.3" stroke-linecap="butt"/>
<line x1="106.4" y1="659.47" x2="110.43" y2="649.07" stroke="#000" stroke-width="1.3" stroke-linecap="butt"/>
<line x1="130.12" y1="671.89" x2="135.3" y2="676.5" stroke="#000" stroke-width="1.4" stroke-linecap="butt"/>
<text x="135.2" y="685.6" class="no2">NO<tspan class="sub" dy="2.6">2</tspan></text>
<path transform="translate(97.6 692.2) scale(0.00586 -0.00586)" d="M838,0 L557,0 L557,1059 C474,980 330,900 100,826 L100,1081 C230,1120 360,1190 450,1270 C540,1350 590,1410 620,1466 L838,1466 Z" fill="#000"/>
<text x="104.27" y="692.2" class="cl" style="white-space:pre">d</text>
<line x1="146.5" y1="588.3" x2="166.2" y2="587.8" stroke="#000" stroke-width="1.4" stroke-linecap="butt"/>
<line x1="146.5" y1="588.3" x2="142.1" y2="606.7" stroke="#000" stroke-width="1.4" stroke-linecap="butt"/>
<line x1="166.2" y1="587.8" x2="171.06" y2="600.64" stroke="#000" stroke-width="1.4" stroke-linecap="butt"/>
<line x1="142.1" y1="606.7" x2="154.51" y2="614.77" stroke="#000" stroke-width="1.4" stroke-linecap="butt"/>
<line x1="169.08" y1="608.73" x2="162.82" y2="614.01" stroke="#000" stroke-width="1.4" stroke-linecap="butt"/>
<line x1="177.74" y1="608.32" x2="184.34" y2="612.18" stroke="#000" stroke-width="1.4" stroke-linecap="butt"/>
<line x1="187.94" y1="619.99" x2="185" y2="634.1" stroke="#000" stroke-width="1.4" stroke-linecap="butt"/>
<line x1="185" y1="634.1" x2="165.7" y2="634.3" stroke="#000" stroke-width="1.4" stroke-linecap="butt"/>
<line x1="165.7" y1="634.3" x2="160.7" y2="622.3" stroke="#000" stroke-width="1.4" stroke-linecap="butt"/>
<text x="173" y="610.05" text-anchor="middle" class="nl">N</text>
<text x="158.8" y="622.05" text-anchor="middle" class="nl">N</text>
<text x="189.1" y="619.45" text-anchor="middle" class="nl">N</text>
<path d="M155.87,608.67 A8.4,8.4 0 1 1 165,600.3" fill="none" stroke="#000" stroke-width="1.3"/>
<path d="M173.37,613.53 A8.4,8.4 0 1 1 165.88,620.15" fill="none" stroke="#000" stroke-width="1.3"/>
<line x1="153.7" y1="601" x2="158.5" y2="601" stroke="#000" stroke-width="1.2" stroke-linecap="butt"/>
<line x1="156.1" y1="598.6" x2="156.1" y2="603.4" stroke="#000" stroke-width="1.2" stroke-linecap="butt"/>
<line x1="172.1" y1="622.2" x2="175.1" y2="622.2" stroke="#000" stroke-width="1.3" stroke-linecap="butt"/>
<line x1="185" y1="634.1" x2="196.32" y2="644.85" stroke="#000" stroke-width="1.4" stroke-linecap="butt"/>
<polygon points="196.32,644.85 213.27,642.23 224.02,655.6 217.82,671.59 200.87,674.21 190.12,660.84" fill="none" stroke="#000" stroke-width="1.4" stroke-linejoin="miter"/>
<line x1="212.74" y1="646.51" x2="219.72" y2="655.2" stroke="#000" stroke-width="1.3" stroke-linecap="butt"/>
<line x1="214.38" y1="668.98" x2="203.36" y2="670.69" stroke="#000" stroke-width="1.3" stroke-linecap="butt"/>
<line x1="194.1" y1="659.17" x2="198.13" y2="648.77" stroke="#000" stroke-width="1.3" stroke-linecap="butt"/>
<line x1="213.27" y1="642.23" x2="214.6" y2="632.6" stroke="#000" stroke-width="1.4" stroke-linecap="butt"/>
<text x="213.6" y="630.9" class="no2">NO<tspan class="sub" dy="2.6">2</tspan></text>
<path transform="translate(200 692.2) scale(0.00586 -0.00586)" d="M838,0 L557,0 L557,1059 C474,980 330,900 100,826 L100,1081 C230,1120 360,1190 450,1270 C540,1350 590,1410 620,1466 L838,1466 Z" fill="#000"/>
<text x="206.67" y="692.2" class="cl" style="white-space:pre">q</text>
<line x1="242.3" y1="588.5" x2="262" y2="588" stroke="#000" stroke-width="1.4" stroke-linecap="butt"/>
<line x1="242.3" y1="588.5" x2="237.9" y2="606.9" stroke="#000" stroke-width="1.4" stroke-linecap="butt"/>
<line x1="262" y1="588" x2="266.86" y2="600.84" stroke="#000" stroke-width="1.4" stroke-linecap="butt"/>
<line x1="237.9" y1="606.9" x2="250.31" y2="614.97" stroke="#000" stroke-width="1.4" stroke-linecap="butt"/>
<line x1="264.88" y1="608.93" x2="258.62" y2="614.21" stroke="#000" stroke-width="1.4" stroke-linecap="butt"/>
<line x1="273.54" y1="608.52" x2="280.14" y2="612.38" stroke="#000" stroke-width="1.4" stroke-linecap="butt"/>
<line x1="283.74" y1="620.19" x2="280.8" y2="634.3" stroke="#000" stroke-width="1.4" stroke-linecap="butt"/>
<line x1="280.8" y1="634.3" x2="261.5" y2="634.5" stroke="#000" stroke-width="1.4" stroke-linecap="butt"/>
<line x1="261.5" y1="634.5" x2="256.5" y2="622.5" stroke="#000" stroke-width="1.4" stroke-linecap="butt"/>
<text x="268.8" y="610.25" text-anchor="middle" class="nl">N</text>
<text x="254.6" y="622.25" text-anchor="middle" class="nl">N</text>
<text x="284.9" y="619.65" text-anchor="middle" class="nl">N</text>
<path d="M251.67,608.87 A8.4,8.4 0 1 1 260.8,600.5" fill="none" stroke="#000" stroke-width="1.3"/>
<path d="M269.17,613.73 A8.4,8.4 0 1 1 261.68,620.35" fill="none" stroke="#000" stroke-width="1.3"/>
<line x1="249.5" y1="601.2" x2="254.3" y2="601.2" stroke="#000" stroke-width="1.2" stroke-linecap="butt"/>
<line x1="251.9" y1="598.8" x2="251.9" y2="603.6" stroke="#000" stroke-width="1.2" stroke-linecap="butt"/>
<line x1="267.9" y1="622.4" x2="270.9" y2="622.4" stroke="#000" stroke-width="1.3" stroke-linecap="butt"/>
<line x1="280.8" y1="634.3" x2="292.12" y2="645.05" stroke="#000" stroke-width="1.4" stroke-linecap="butt"/>
<polygon points="292.12,645.05 309.07,642.43 319.82,655.8 313.62,671.79 296.67,674.41 285.92,661.04" fill="none" stroke="#000" stroke-width="1.4" stroke-linejoin="miter"/>
<line x1="308.54" y1="646.71" x2="315.52" y2="655.4" stroke="#000" stroke-width="1.3" stroke-linecap="butt"/>
<line x1="310.18" y1="669.18" x2="299.16" y2="670.89" stroke="#000" stroke-width="1.3" stroke-linecap="butt"/>
<line x1="289.9" y1="659.37" x2="293.93" y2="648.97" stroke="#000" stroke-width="1.3" stroke-linecap="butt"/>
<line x1="319.82" y1="655.8" x2="331.8" y2="653.9" stroke="#000" stroke-width="1.4" stroke-linecap="butt"/>
<text x="332.4" y="657.8" class="no2">NO<tspan class="sub" dy="2.6">2</tspan></text>
<path transform="translate(296.5 692.2) scale(0.00586 -0.00586)" d="M838,0 L557,0 L557,1059 C474,980 330,900 100,826 L100,1081 C230,1120 360,1190 450,1270 C540,1350 590,1410 620,1466 L838,1466 Z" fill="#000"/>
<text x="303.17" y="692.2" class="cl" style="white-space:pre">r</text>
<line x1="342.8" y1="587.6" x2="362.5" y2="587.1" stroke="#000" stroke-width="1.4" stroke-linecap="butt"/>
<line x1="342.8" y1="587.6" x2="338.4" y2="606" stroke="#000" stroke-width="1.4" stroke-linecap="butt"/>
<line x1="362.5" y1="587.1" x2="367.36" y2="599.94" stroke="#000" stroke-width="1.4" stroke-linecap="butt"/>
<line x1="338.4" y1="606" x2="350.81" y2="614.07" stroke="#000" stroke-width="1.4" stroke-linecap="butt"/>
<line x1="365.38" y1="608.03" x2="359.12" y2="613.31" stroke="#000" stroke-width="1.4" stroke-linecap="butt"/>
<line x1="374.04" y1="607.62" x2="380.64" y2="611.48" stroke="#000" stroke-width="1.4" stroke-linecap="butt"/>
<line x1="384.24" y1="619.29" x2="381.3" y2="633.4" stroke="#000" stroke-width="1.4" stroke-linecap="butt"/>
<line x1="381.3" y1="633.4" x2="362" y2="633.6" stroke="#000" stroke-width="1.4" stroke-linecap="butt"/>
<line x1="362" y1="633.6" x2="357" y2="621.6" stroke="#000" stroke-width="1.4" stroke-linecap="butt"/>
<text x="369.3" y="609.35" text-anchor="middle" class="nl">N</text>
<text x="355.1" y="621.35" text-anchor="middle" class="nl">N</text>
<text x="385.4" y="618.75" text-anchor="middle" class="nl">N</text>
<path d="M352.17,607.97 A8.4,8.4 0 1 1 361.3,599.6" fill="none" stroke="#000" stroke-width="1.3"/>
<path d="M369.67,612.83 A8.4,8.4 0 1 1 362.18,619.45" fill="none" stroke="#000" stroke-width="1.3"/>
<line x1="350" y1="600.3" x2="354.8" y2="600.3" stroke="#000" stroke-width="1.2" stroke-linecap="butt"/>
<line x1="352.4" y1="597.9" x2="352.4" y2="602.7" stroke="#000" stroke-width="1.2" stroke-linecap="butt"/>
<line x1="368.4" y1="621.5" x2="371.4" y2="621.5" stroke="#000" stroke-width="1.3" stroke-linecap="butt"/>
<line x1="381.3" y1="633.4" x2="392.62" y2="644.15" stroke="#000" stroke-width="1.4" stroke-linecap="butt"/>
<polygon points="392.62,644.15 409.57,641.53 420.32,654.9 414.12,670.89 397.17,673.51 386.42,660.14" fill="none" stroke="#000" stroke-width="1.4" stroke-linejoin="miter"/>
<line x1="409.04" y1="645.81" x2="416.02" y2="654.5" stroke="#000" stroke-width="1.3" stroke-linecap="butt"/>
<line x1="410.68" y1="668.28" x2="399.66" y2="669.99" stroke="#000" stroke-width="1.3" stroke-linecap="butt"/>
<line x1="390.4" y1="658.47" x2="394.43" y2="648.07" stroke="#000" stroke-width="1.3" stroke-linecap="butt"/>
<line x1="409.57" y1="641.53" x2="412" y2="634.9" stroke="#000" stroke-width="1.4" stroke-linecap="butt"/>
<line x1="414.12" y1="670.89" x2="418.7" y2="675" stroke="#000" stroke-width="1.4" stroke-linecap="butt"/>
<text x="410.2" y="630.4" class="no2">NO<tspan class="sub" dy="2.6">2</tspan></text>
<text x="419" y="684.6" class="no2">NO<tspan class="sub" dy="2.6">2</tspan></text>
<path transform="translate(389.9 692.2) scale(0.00586 -0.00586)" d="M838,0 L557,0 L557,1059 C474,980 330,900 100,826 L100,1081 C230,1120 360,1190 450,1270 C540,1350 590,1410 620,1466 L838,1466 Z" fill="#000"/>
<text x="396.57" y="692.2" class="cl" style="white-space:pre">s</text>
<rect x="453.2" y="596.5" width="178.80" height="87.90" fill="none" stroke="#222" stroke-width="1.15"/>
<line x1="559.5" y1="596.5" x2="559.5" y2="684.4" stroke="#222" stroke-width="1.15"/>
<line x1="453.2" y1="614.2" x2="632.0" y2="614.2" stroke="#222" stroke-width="1.15"/>
<line x1="453.2" y1="631.5" x2="632.0" y2="631.5" stroke="#222" stroke-width="1.15"/>
<line x1="453.2" y1="649.4" x2="632.0" y2="649.4" stroke="#222" stroke-width="1.15"/>
<line x1="453.2" y1="666.8" x2="632.0" y2="666.8" stroke="#222" stroke-width="1.15"/>
<text x="506.35" y="626.80" text-anchor="middle" class="tb"><tspan font-style="italic">o</tspan>-Nitrophenyl TAP</text>
<path transform="translate(583.26 626.8) scale(0.00522 -0.00522)" d="M838,0 L557,0 L557,1059 C474,980 330,900 100,826 L100,1081 C230,1120 360,1190 450,1270 C540,1350 590,1410 620,1466 L838,1466 Z" fill="#000"/>
<text x="589.21" y="626.8" class="tb" style="white-space:pre">00 µM</text>
<path d="M573.8,620.2 L581.0,623.4 L573.8,626.6" fill="none" stroke="#000" stroke-width="1.1"/>
<text x="506.35" y="644.10" text-anchor="middle" class="tb"><tspan font-style="italic">m</tspan>-Nitrophenyl TAP</text>
<text x="595.75" y="644.10" text-anchor="middle" class="tb">74.5 µM</text>
<text x="506.35" y="662.00" text-anchor="middle" class="tb"><tspan font-style="italic">p</tspan>-Nitrophenyl TAP</text>
<text x="595.75" y="662.00" text-anchor="middle" class="tb">3.6 µM</text>
<text x="506.35" y="679.40" text-anchor="middle" class="tb">Dinitrophenyl TAP</text>
<text x="595.75" y="679.40" text-anchor="middle" class="tb">63.0 µM</text>
<text x="586.2" y="608.8" class="tb">IC<tspan class="tsub" dx="0.4" dy="0.9">50</tspan></text>
</svg>
</body></html>
